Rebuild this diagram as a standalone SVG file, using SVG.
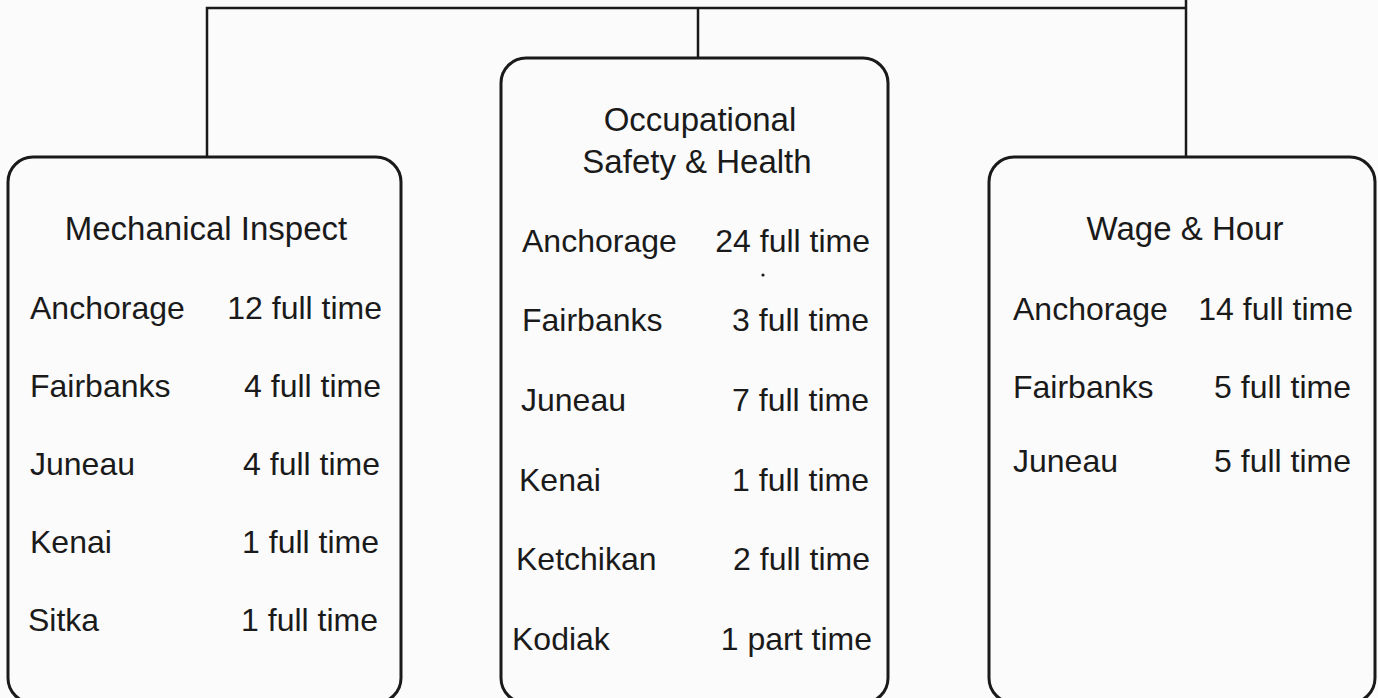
<svg xmlns="http://www.w3.org/2000/svg" width="1378" height="698" viewBox="0 0 1378 698">
<style>
.box{fill:none;stroke:#1a1a1a;stroke-width:3}
.con{fill:none;stroke:#1a1a1a;stroke-width:2.5}
text{font-family:"Liberation Sans",Arial,Helvetica,sans-serif;font-size:32px;fill:#1a1a1a}
.c{text-anchor:middle}
.t{font-size:33px}
.r{text-anchor:end}
</style>
<rect width="1378" height="698" fill="#fbfbfb"/>
<g id="connectors">
<path class="con" d="M207,157 V8 H1186"/>
<path class="con" d="M1186,0 V157"/>
<path class="con" d="M698,8 V58"/>
</g>
<g id="mechanical">
<rect class="box" x="8" y="157" width="393" height="546" rx="25"/>
<text class="c t" x="206" y="240">Mechanical Inspect</text>
<text x="30" y="319">Anchorage</text><text class="r" x="382" y="319">12 full time</text>
<text x="30" y="397">Fairbanks</text><text class="r" x="381" y="397">4 full time</text>
<text x="30" y="475">Juneau</text><text class="r" x="380" y="475">4 full time</text>
<text x="30" y="553">Kenai</text><text class="r" x="379" y="553">1 full time</text>
<text x="28" y="631">Sitka</text><text class="r" x="378" y="631">1 full time</text>
</g>
<g id="osh">
<rect class="box" x="501" y="58" width="387" height="645" rx="25"/>
<text class="c t" x="700" y="131">Occupational</text>
<text class="c t" x="697" y="173">Safety &amp; Health</text>
<text x="522" y="252">Anchorage</text><text class="r" x="870" y="252">24 full time</text>
<circle cx="763" cy="275" r="1.6" fill="#1a1a1a"/>
<text x="522" y="331">Fairbanks</text><text class="r" x="869" y="331">3 full time</text>
<text x="521" y="411">Juneau</text><text class="r" x="869" y="411">7 full time</text>
<text x="519" y="491">Kenai</text><text class="r" x="869" y="491">1 full time</text>
<text x="516" y="570">Ketchikan</text><text class="r" x="870" y="570">2 full time</text>
<text x="512" y="650">Kodiak</text><text class="r" x="872" y="650">1 part time</text>
</g>
<g id="wage">
<rect class="box" x="989" y="157" width="386" height="546" rx="25"/>
<text class="c t" x="1185" y="240">Wage &amp; Hour</text>
<text x="1013" y="320">Anchorage</text><text class="r" x="1353" y="320">14 full time</text>
<text x="1013" y="398">Fairbanks</text><text class="r" x="1351" y="398">5 full time</text>
<text x="1013" y="472">Juneau</text><text class="r" x="1351" y="472">5 full time</text>
</g>
</svg>
